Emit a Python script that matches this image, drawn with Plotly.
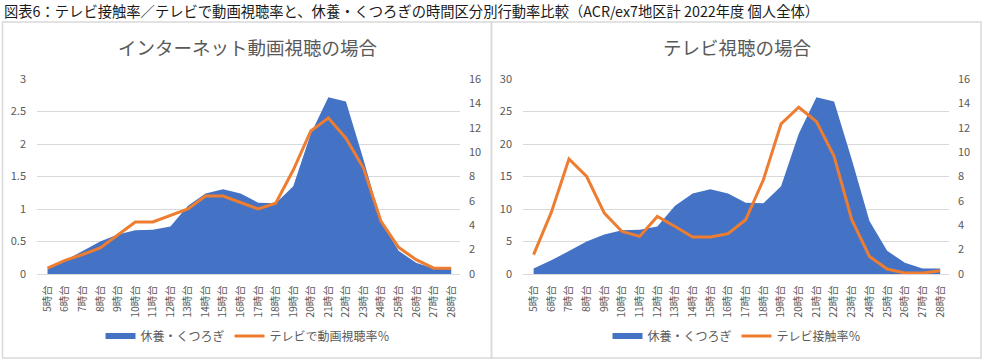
import plotly.graph_objects as go

hours = [f"{h}時台" for h in range(5, 29)]

# 休養・くつろぎ (%), right axis 0-16 (same in both panels)
rest = [0.45, 1.12, 1.88, 2.67, 3.25, 3.6, 3.63, 3.89, 5.6, 6.61, 6.95, 6.61,
        5.85, 5.81, 7.2, 11.5, 14.5, 14.15, 9.39, 4.35, 1.9, 0.93, 0.45, 0.45]
# テレビで動画視聴率% (left axis 0-3)
tv_video = [0.09, 0.21, 0.30, 0.40, 0.60, 0.80, 0.80, 0.90, 1.00, 1.20, 1.20, 1.10,
            1.00, 1.09, 1.60, 2.20, 2.40, 2.09, 1.63, 0.81, 0.41, 0.22, 0.09, 0.09]
# テレビ接触率% (left axis 0-30)
tv_contact = [2.97, 9.47, 17.7, 15.0, 9.37, 6.55, 5.79, 8.86, 7.3, 5.7, 5.7, 6.2,
              8.35, 14.5, 23.1, 25.65, 23.45, 18.1, 8.35, 2.7, 0.77, 0.15, 0.15, 0.5]

BLUE = "#4472C4"
ORANGE = "#ED7D31"
GRAY = "#595959"
GRID = "#D9D9D9"
FONT = "Noto Sans CJK JP"
W, H = 984, 360

def px(x):
    return x / W

def py(y):
    return 1 - y / H

fig = go.Figure()

# Left panel
fig.add_trace(go.Scatter(x=hours, y=rest, name="休養・くつろぎ", mode="none",
                         fill="tozeroy", fillcolor=BLUE, xaxis="x", yaxis="y",
                         legend="legend"))
fig.add_trace(go.Scatter(x=hours, y=tv_video, name="テレビで動画視聴率％", mode="lines",
                         line=dict(color=ORANGE, width=3), xaxis="x", yaxis="y2",
                         legend="legend"))
# Right panel
fig.add_trace(go.Scatter(x=hours, y=rest, name="休養・くつろぎ", mode="none",
                         fill="tozeroy", fillcolor=BLUE, xaxis="x2", yaxis="y3",
                         legend="legend2"))
fig.add_trace(go.Scatter(x=hours, y=tv_contact, name="テレビ接触率％", mode="lines",
                         line=dict(color=ORANGE, width=3), xaxis="x2", yaxis="y4",
                         legend="legend2"))

tickfont = dict(family=FONT, size=11, color=GRAY)
xcommon = dict(type="category", range=[-0.6, 23.5], tickangle=-90,
               tickfont=dict(family=FONT, size=10.5, color=GRAY),
               showgrid=False, showline=True, linecolor=GRID, linewidth=1, ticks="",
               ticklabelstandoff=6, fixedrange=True, automargin=False)
ycommon = dict(zeroline=False, tickfont=tickfont, automargin=False, ticks="", showline=False,
               fixedrange=True)
ydom = [py(274), py(79)]

fig.update_layout(
    template="none",
    width=W, height=H,
    margin=dict(l=0, r=0, t=0, b=0, pad=0),
    paper_bgcolor="white", plot_bgcolor="rgba(0,0,0,0)",
    font=dict(family=FONT, color=GRAY),
    xaxis=dict(domain=[px(37), px(460)], anchor="y", **xcommon),
    xaxis2=dict(domain=[px(523), px(949)], anchor="y3", **xcommon),
    yaxis=dict(domain=ydom, anchor="x", side="right", range=[0, 16], dtick=2,
               showgrid=False, ticklabelstandoff=8, **ycommon),
    yaxis2=dict(overlaying="y", anchor="x", side="left", range=[0, 3], dtick=0.5,
                showgrid=True, gridcolor=GRID, gridwidth=1, ticklabelstandoff=10, **ycommon),
    yaxis3=dict(domain=ydom, anchor="x2", side="right", range=[0, 16], dtick=2,
                showgrid=False, ticklabelstandoff=8, **ycommon),
    yaxis4=dict(overlaying="y3", anchor="x2", side="left", range=[0, 30], dtick=5,
                showgrid=True, gridcolor=GRID, gridwidth=1, ticklabelstandoff=10, **ycommon),
    legend=dict(orientation="h", x=px(248), y=py(336), xanchor="center", yanchor="middle",
                font=dict(family=FONT, size=12, color=GRAY), bgcolor="rgba(0,0,0,0)",
                itemwidth=30, tracegroupgap=0),
    legend2=dict(orientation="h", x=px(737), y=py(336), xanchor="center", yanchor="middle",
                 font=dict(family=FONT, size=12, color=GRAY), bgcolor="rgba(0,0,0,0)",
                 itemwidth=30, tracegroupgap=0),
    hovermode=False,
    shapes=[
        dict(type="rect", xref="paper", yref="paper", x0=px(2.5), x1=px(491.5), y0=py(358), y1=py(22),
             line=dict(color=GRID, width=1.5), layer="below"),
        dict(type="rect", xref="paper", yref="paper", x0=px(491.5), x1=px(981), y0=py(358), y1=py(22),
             line=dict(color=GRID, width=1.5), layer="below"),
    ],
    annotations=[
        dict(text="図表6：テレビ接触率／テレビで動画視聴率と、休養・くつろぎの時間区分別行動率比較（ACR/ex7地区計 2022年度 個人全体）",
             xref="paper", yref="paper", x=px(2), y=py(10), xanchor="left", yanchor="middle",
             showarrow=False, font=dict(family=FONT, size=14.3, color="#1a1a1a")),
        dict(text="インターネット動画視聴の場合", xref="paper", yref="paper", x=px(248), y=py(47),
             xanchor="center", yanchor="middle", showarrow=False,
             font=dict(family=FONT, size=18.5, color=GRAY)),
        dict(text="テレビ視聴の場合", xref="paper", yref="paper", x=px(737), y=py(47),
             xanchor="center", yanchor="middle", showarrow=False,
             font=dict(family=FONT, size=18.5, color=GRAY)),
    ],
)

fig.write_html("out.html", config={"displayModeBar": False, "staticPlot": False},
               post_script="document.body.style.margin='0';document.body.style.overflow='hidden';")
